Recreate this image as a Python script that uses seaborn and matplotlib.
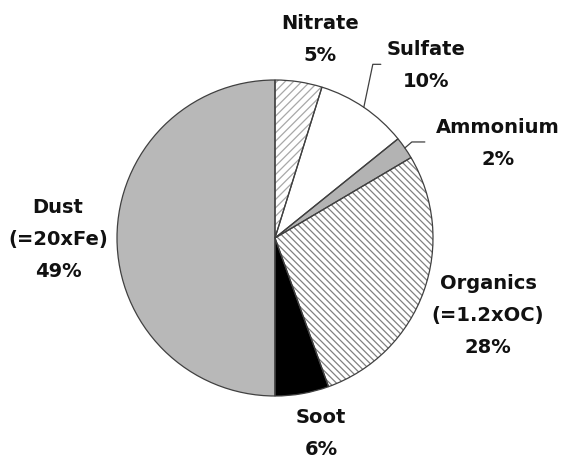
import numpy as np
import matplotlib
matplotlib.use("Agg")
import matplotlib.pyplot as plt
import seaborn as sns

# aerosol mass fractions, clockwise from 12 o'clock
components = ["Nitrate", "Sulfate", "Ammonium", "Organics\n(=1.2xOC)", "Soot", "Dust\n(=20xFe)"]
pct_labels = [5, 10, 2, 28, 6, 49]
# wedge sizes as drawn in the figure (%)
wedge_sizes = [4.8, 9.4, 2.3, 28.0, 5.5, 50.0]

fills = ["white", "white", "#b3b3b3", "white", "black", "#b8b8b8"]
hatch_cols = ["#a8a8a8", "white", "#b3b3b3", "#808080", "black", "#b8b8b8"]
hatches = ["////", "", "", "\\\\\\\\\\", "", ""]

sns.set_theme(style="white")
plt.rcParams["font.family"] = ["DejaVu Sans"]
plt.rcParams["hatch.linewidth"] = 0.9

W, H = 568, 459
fig = plt.figure(figsize=(W / 100, H / 100), dpi=100)
ax = fig.add_axes([0, 0, 1, 1])

cx, cy, r = 275, H - 238, 158

# fill + hatch layer
wedges, _ = ax.pie(wedge_sizes, startangle=90, counterclock=False, center=(cx, cy), radius=r,
                   colors=fills, wedgeprops=dict(linewidth=0))
for w, hc, h in zip(wedges, hatch_cols, hatches):
    w.set_edgecolor(hc)
    w.set_hatch(h)
    w.set_linewidth(0)
# outline layer
ax.pie(wedge_sizes, startangle=90, counterclock=False, center=(cx, cy), radius=r,
       colors=["none"] * len(wedge_sizes),
       wedgeprops=dict(linewidth=0.9, edgecolor="#404040", fill=False))

ax.set_xlim(0, W)
ax.set_ylim(0, H)
ax.set_aspect("equal")
ax.axis("off")

# label layout: (x centre, first baseline in px from top)
label_pos = [(320, 29), (426, 55), (498, 133), (488, 289), (321, 423), (58, 213)]
pitch = 32
for name, s, (lx, ly) in zip(components, pct_labels, label_pos):
    lines = name.split("\n") + [f"{s}%"]
    for i, t in enumerate(lines):
        ax.text(lx, H - (ly + i * pitch), t, ha="center", va="baseline",
                fontsize=14, fontweight="bold", color="#111111")

# leader lines for the thin slices
cum = np.cumsum([0] + wedge_sizes)
leaders = {1: [(9, 43), (17, 43)], 2: [(7, 6), (20, 6)]}
for idx, steps in leaders.items():
    mid = (cum[idx] + cum[idx + 1]) / 2 / 100 * 2 * np.pi
    ex, ey = cx + r * np.sin(mid), cy + r * np.cos(mid)
    xs = [ex] + [ex + dx for dx, dy in steps]
    ys = [ey] + [ey + dy for dx, dy in steps]
    ax.plot(xs, ys, color="#404040", linewidth=0.9)

fig.savefig("out.png", dpi=100)
